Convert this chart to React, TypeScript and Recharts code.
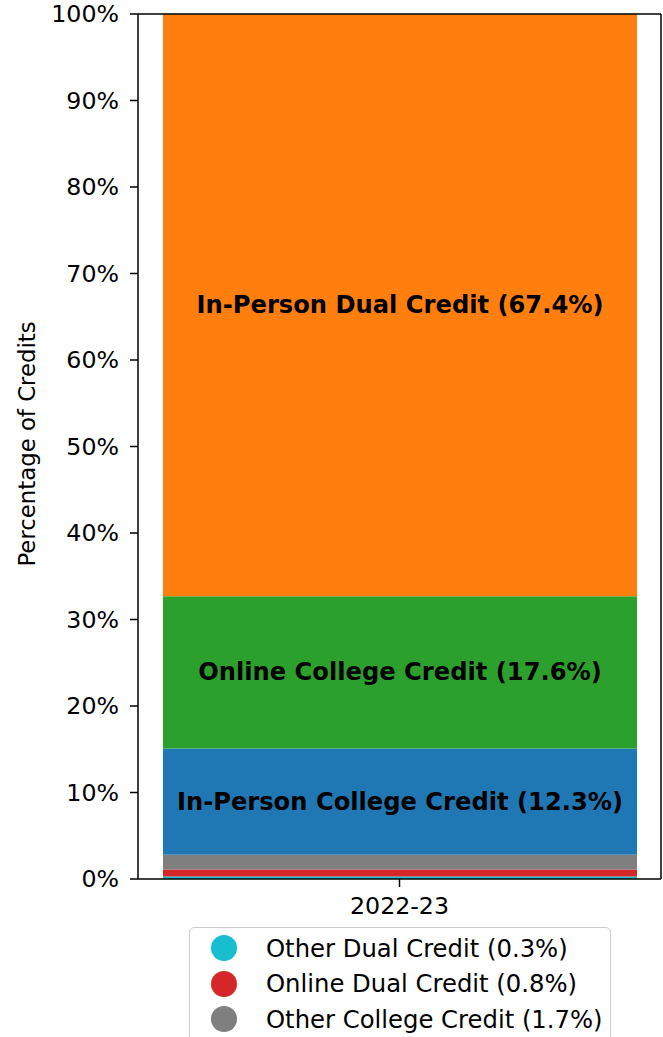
import { BarChart, Bar, XAxis, YAxis, LabelList } from 'recharts';

// 学年类别与各类学分占比
const years = ['2022-23'];
const seriesNames = [
  'Other Dual Credit',
  'Online Dual Credit',
  'Other College Credit',
  'In-Person College Credit',
  'Online College Credit',
  'In-Person Dual Credit',
];
const seriesValues = [0.3, 0.8, 1.7, 12.3, 17.6, 67.4];
const seriesColors = ['#17becf', '#d62728', '#7f7f7f', '#1f77b4', '#2ca02c', '#ff7f0e'];
const labeledSeries = [false, false, false, true, true, true];
const legendSeries = [0, 1, 2];
const yTicks = [0, 10, 20, 30, 40, 50, 60, 70, 80, 90, 100];

const FONT = 'DejaVu Sans, sans-serif';

const chartData = years.map((year) => {
  const row: Record<string, string | number> = { year };
  seriesNames.forEach((name, i) => {
    row[name] = seriesValues[i];
  });
  return row;
});

const renderBarLabel = (name: string, value: number) => (props: any) => {
  const { x, y, width, height } = props;
  return (
    <text
      x={x + width / 2}
      y={y + height / 2}
      textAnchor="middle"
      dominantBaseline="central"
      fontFamily={FONT}
      fontWeight="bold"
      fontSize={24.2}
      fill="#000"
    >
      {`${name} (${value.toFixed(1)}%)`}
    </text>
  );
};

const YLabel = () => (
  <text
    x={27}
    y={444}
    transform="rotate(-90, 27, 444)"
    textAnchor="middle"
    dominantBaseline="central"
    fontFamily={FONT}
    fontSize={22.8}
    fill="#000"
  >
    Percentage of Credits
  </text>
);

const App = () => {
  return (
    <div style={{ position: 'absolute', left: 0, top: 0, width: 663, height: 1037, overflow: 'hidden', background: '#fff' }}>
      <BarChart
        width={663}
        height={1037}
        data={chartData}
        margin={{ top: 13, right: 1, bottom: 118, left: 0 }}
      >
        <XAxis
          dataKey="year"
          height={40}
          tick={{ fontSize: 23.7, fontFamily: FONT, fill: '#000' }}
          tickSize={8}
          tickMargin={10}
          tickLine={{ stroke: '#000', strokeWidth: 1.5 }}
          axisLine={{ stroke: '#000', strokeWidth: 1.5 }}
        />
        <XAxis
          xAxisId="top"
          dataKey="year"
          orientation="top"
          height={1}
          tick={false}
          tickLine={false}
          axisLine={{ stroke: '#000', strokeWidth: 1.5 }}
        />
        <YAxis
          type="number"
          domain={[0, 100]}
          ticks={yTicks}
          allowDataOverflow
          width={138}
          tickFormatter={(v) => `${v}%`}
          tick={{ fontSize: 23.7, fontFamily: FONT, fill: '#000' }}
          tickSize={8}
          tickMargin={11}
          tickLine={{ stroke: '#000', strokeWidth: 1.5 }}
          axisLine={{ stroke: '#000', strokeWidth: 1.5 }}
          label={<YLabel />}
        />
        <YAxis
          yAxisId="right"
          orientation="right"
          type="number"
          domain={[0, 100]}
          width={1}
          tick={false}
          tickLine={false}
          axisLine={{ stroke: '#000', strokeWidth: 1.5 }}
        />
        {seriesNames.map((name, i) => (
          <Bar
            key={name}
            dataKey={name}
            stackId="a"
            fill={seriesColors[i]}
            barSize={474}
            isAnimationActive={false}
          >
            {labeledSeries[i] && (
              <LabelList dataKey={name} content={renderBarLabel(name, seriesValues[i])} />
            )}
          </Bar>
        ))}
      </BarChart>

      {/* 图例 */}
      <div
        style={{
          position: 'absolute',
          left: 189,
          top: 927,
          width: 422,
          height: 140,
          border: '1.5px solid #cccccc',
          borderRadius: 5,
          background: 'rgba(255,255,255,0.8)',
          boxSizing: 'border-box',
        }}
      >
        {legendSeries.map((idx, row) => (
          <div
            key={seriesNames[idx]}
            style={{
              position: 'absolute',
              left: 0,
              top: 2 + row * 35.5,
              height: 36,
              display: 'flex',
              alignItems: 'center',
            }}
          >
            <span
              style={{
                position: 'absolute',
                left: 21,
                width: 26,
                height: 26,
                borderRadius: '50%',
                background: seriesColors[idx],
              }}
            />
            <span
              style={{
                position: 'absolute',
                left: 76,
                whiteSpace: 'nowrap',
                fontFamily: FONT,
                fontSize: 24.3,
                color: '#000',
              }}
            >
              {`${seriesNames[idx]} (${seriesValues[idx].toFixed(1)}%)`}
            </span>
          </div>
        ))}
      </div>
    </div>
  );
};

export default App;
